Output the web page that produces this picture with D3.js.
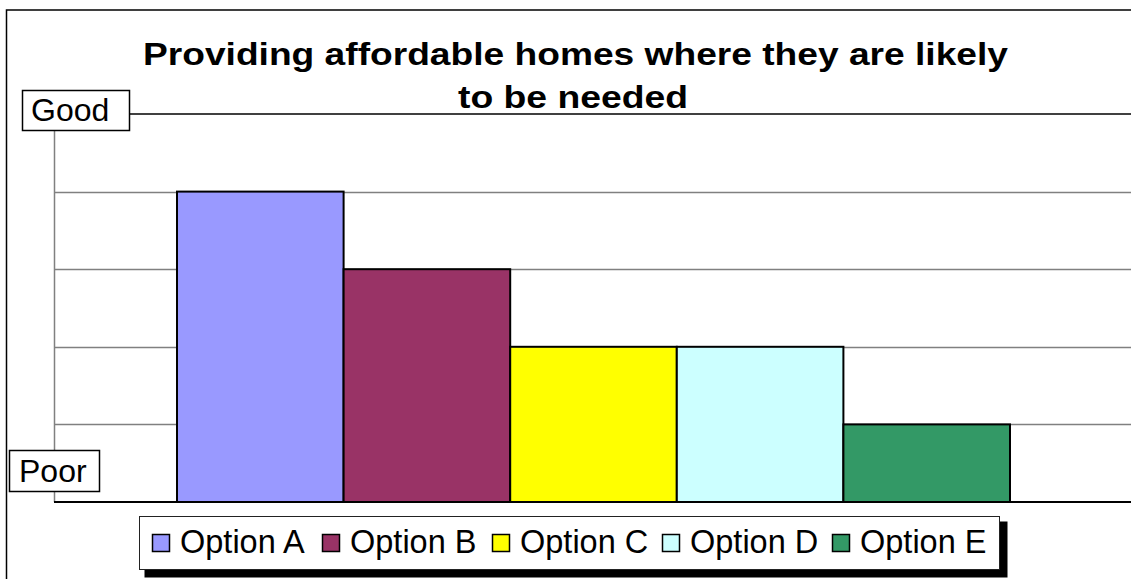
<!DOCTYPE html>
<html>
<head>
<meta charset="utf-8">
<script src="https://cdn.jsdelivr.net/npm/d3@7"></script>
<style>
  html, body { margin: 0; padding: 0; background: #fff; }
  svg { display: block; font-family: "Liberation Sans", Arial, sans-serif; }
</style>
</head>
<body>
<svg id="chart" width="1131" height="579"></svg>
<script>
// ---- data ----
const titleLines = ["Providing affordable homes where they are likely", "to be needed"];
const categories = ["Option A", "Option B", "Option C", "Option D", "Option E"];
const values = [4, 3, 2, 2, 1];
const colors = ["#9999FF", "#993366", "#FFFF00", "#CCFFFF", "#339966"];
const axisLabels = { top: "Good", bottom: "Poor" };
const yMax = 5;
const gridValues = [1, 2, 3, 4];

// ---- layout ----
const W = 1131, H = 579;
const plot = { left: 54, top: 114, bottom: 502, right: 1140 };
const svg = d3.select("#chart");

// outer chart border (extends past right/bottom edges, cropped)
svg.append("rect")
  .attr("x", 6.5).attr("y", 10).attr("width", W + 20).attr("height", H + 20)
  .attr("fill", "#fff").attr("stroke", "#000").attr("stroke-width", 1.5);

const x = d3.scaleBand().domain(categories).range([177, 1010]).padding(0);
const y = d3.scaleLinear().domain([0, yMax]).range([plot.bottom, plot.top]);

// gridlines
svg.append("g").selectAll("line").data(gridValues).join("line")
  .attr("x1", plot.left).attr("x2", plot.right)
  .attr("y1", d => Math.round(y(d)) + 0.5).attr("y2", d => Math.round(y(d)) + 0.5)
  .attr("stroke", "#808080").attr("stroke-width", 1.5);

// plot top line (black)
svg.append("line")
  .attr("x1", plot.left).attr("x2", plot.right)
  .attr("y1", y(yMax)).attr("y2", y(yMax))
  .attr("stroke", "#000").attr("stroke-width", 1.5);

// left axis (gray)
svg.append("line")
  .attr("x1", plot.left + 0.5).attr("x2", plot.left + 0.5)
  .attr("y1", y(yMax)).attr("y2", y(0))
  .attr("stroke", "#808080").attr("stroke-width", 1.5);

// bars
svg.append("g").selectAll("rect").data(categories).join("rect")
  .attr("x", d => x(d))
  .attr("y", (d, i) => y(values[i]))
  .attr("width", x.bandwidth())
  .attr("height", (d, i) => y(0) - y(values[i]))
  .attr("fill", (d, i) => colors[i])
  .attr("stroke", "#000").attr("stroke-width", 2);

// bottom axis (black)
svg.append("line")
  .attr("x1", plot.left).attr("x2", plot.right)
  .attr("y1", y(0)).attr("y2", y(0))
  .attr("stroke", "#000").attr("stroke-width", 1.8);

// title
svg.append("text")
  .attr("x", 143).attr("y", 65)
  .attr("textLength", 865).attr("lengthAdjust", "spacingAndGlyphs")
  .attr("font-size", 31).attr("font-weight", "bold").attr("fill", "#000")
  .text(titleLines[0]);
svg.append("text")
  .attr("x", 458).attr("y", 108)
  .attr("textLength", 230).attr("lengthAdjust", "spacingAndGlyphs")
  .attr("font-size", 31).attr("font-weight", "bold").attr("fill", "#000")
  .text(titleLines[1]);

// Good / Poor labels in boxes
function labelBox(bx, by, bw, bh, tx, ty, txt) {
  svg.append("rect").attr("x", bx).attr("y", by).attr("width", bw).attr("height", bh)
    .attr("fill", "#fff").attr("stroke", "#000").attr("stroke-width", 1.5);
  svg.append("text").attr("x", tx).attr("y", ty)
    .attr("font-size", 32).attr("fill", "#000").text(txt);
}
labelBox(22.5, 90.5, 107, 40, 31, 121, axisLabels.top);
labelBox(9.5, 450.5, 90, 41, 19, 482, axisLabels.bottom);

// legend
const legendBox = { x: 139.5, y: 516.5, w: 860, h: 53 };
svg.append("rect")
  .attr("x", legendBox.x + 5).attr("y", legendBox.y + 5)
  .attr("width", legendBox.w + 3).attr("height", legendBox.h + 3)
  .attr("fill", "#000");
svg.append("rect")
  .attr("x", legendBox.x).attr("y", legendBox.y)
  .attr("width", legendBox.w).attr("height", legendBox.h)
  .attr("fill", "#fff").attr("stroke", "#222").attr("stroke-width", 1);

const itemX = d3.scaleLinear().domain([0, categories.length - 1]).range([152, 832]);
const items = svg.append("g").selectAll("g").data(categories).join("g")
  .attr("transform", (d, i) => `translate(${itemX(i)},534)`);
items.append("rect")
  .attr("x", 0.5).attr("y", 0.5).attr("width", 17).attr("height", 17)
  .attr("fill", (d, i) => colors[i])
  .attr("stroke", "#000").attr("stroke-width", 1.5);
items.append("text")
  .attr("x", 28).attr("y", 18.5)
  .attr("font-size", 32.5).attr("fill", "#000")
  .text(d => d);
</script>
</body>
</html>
